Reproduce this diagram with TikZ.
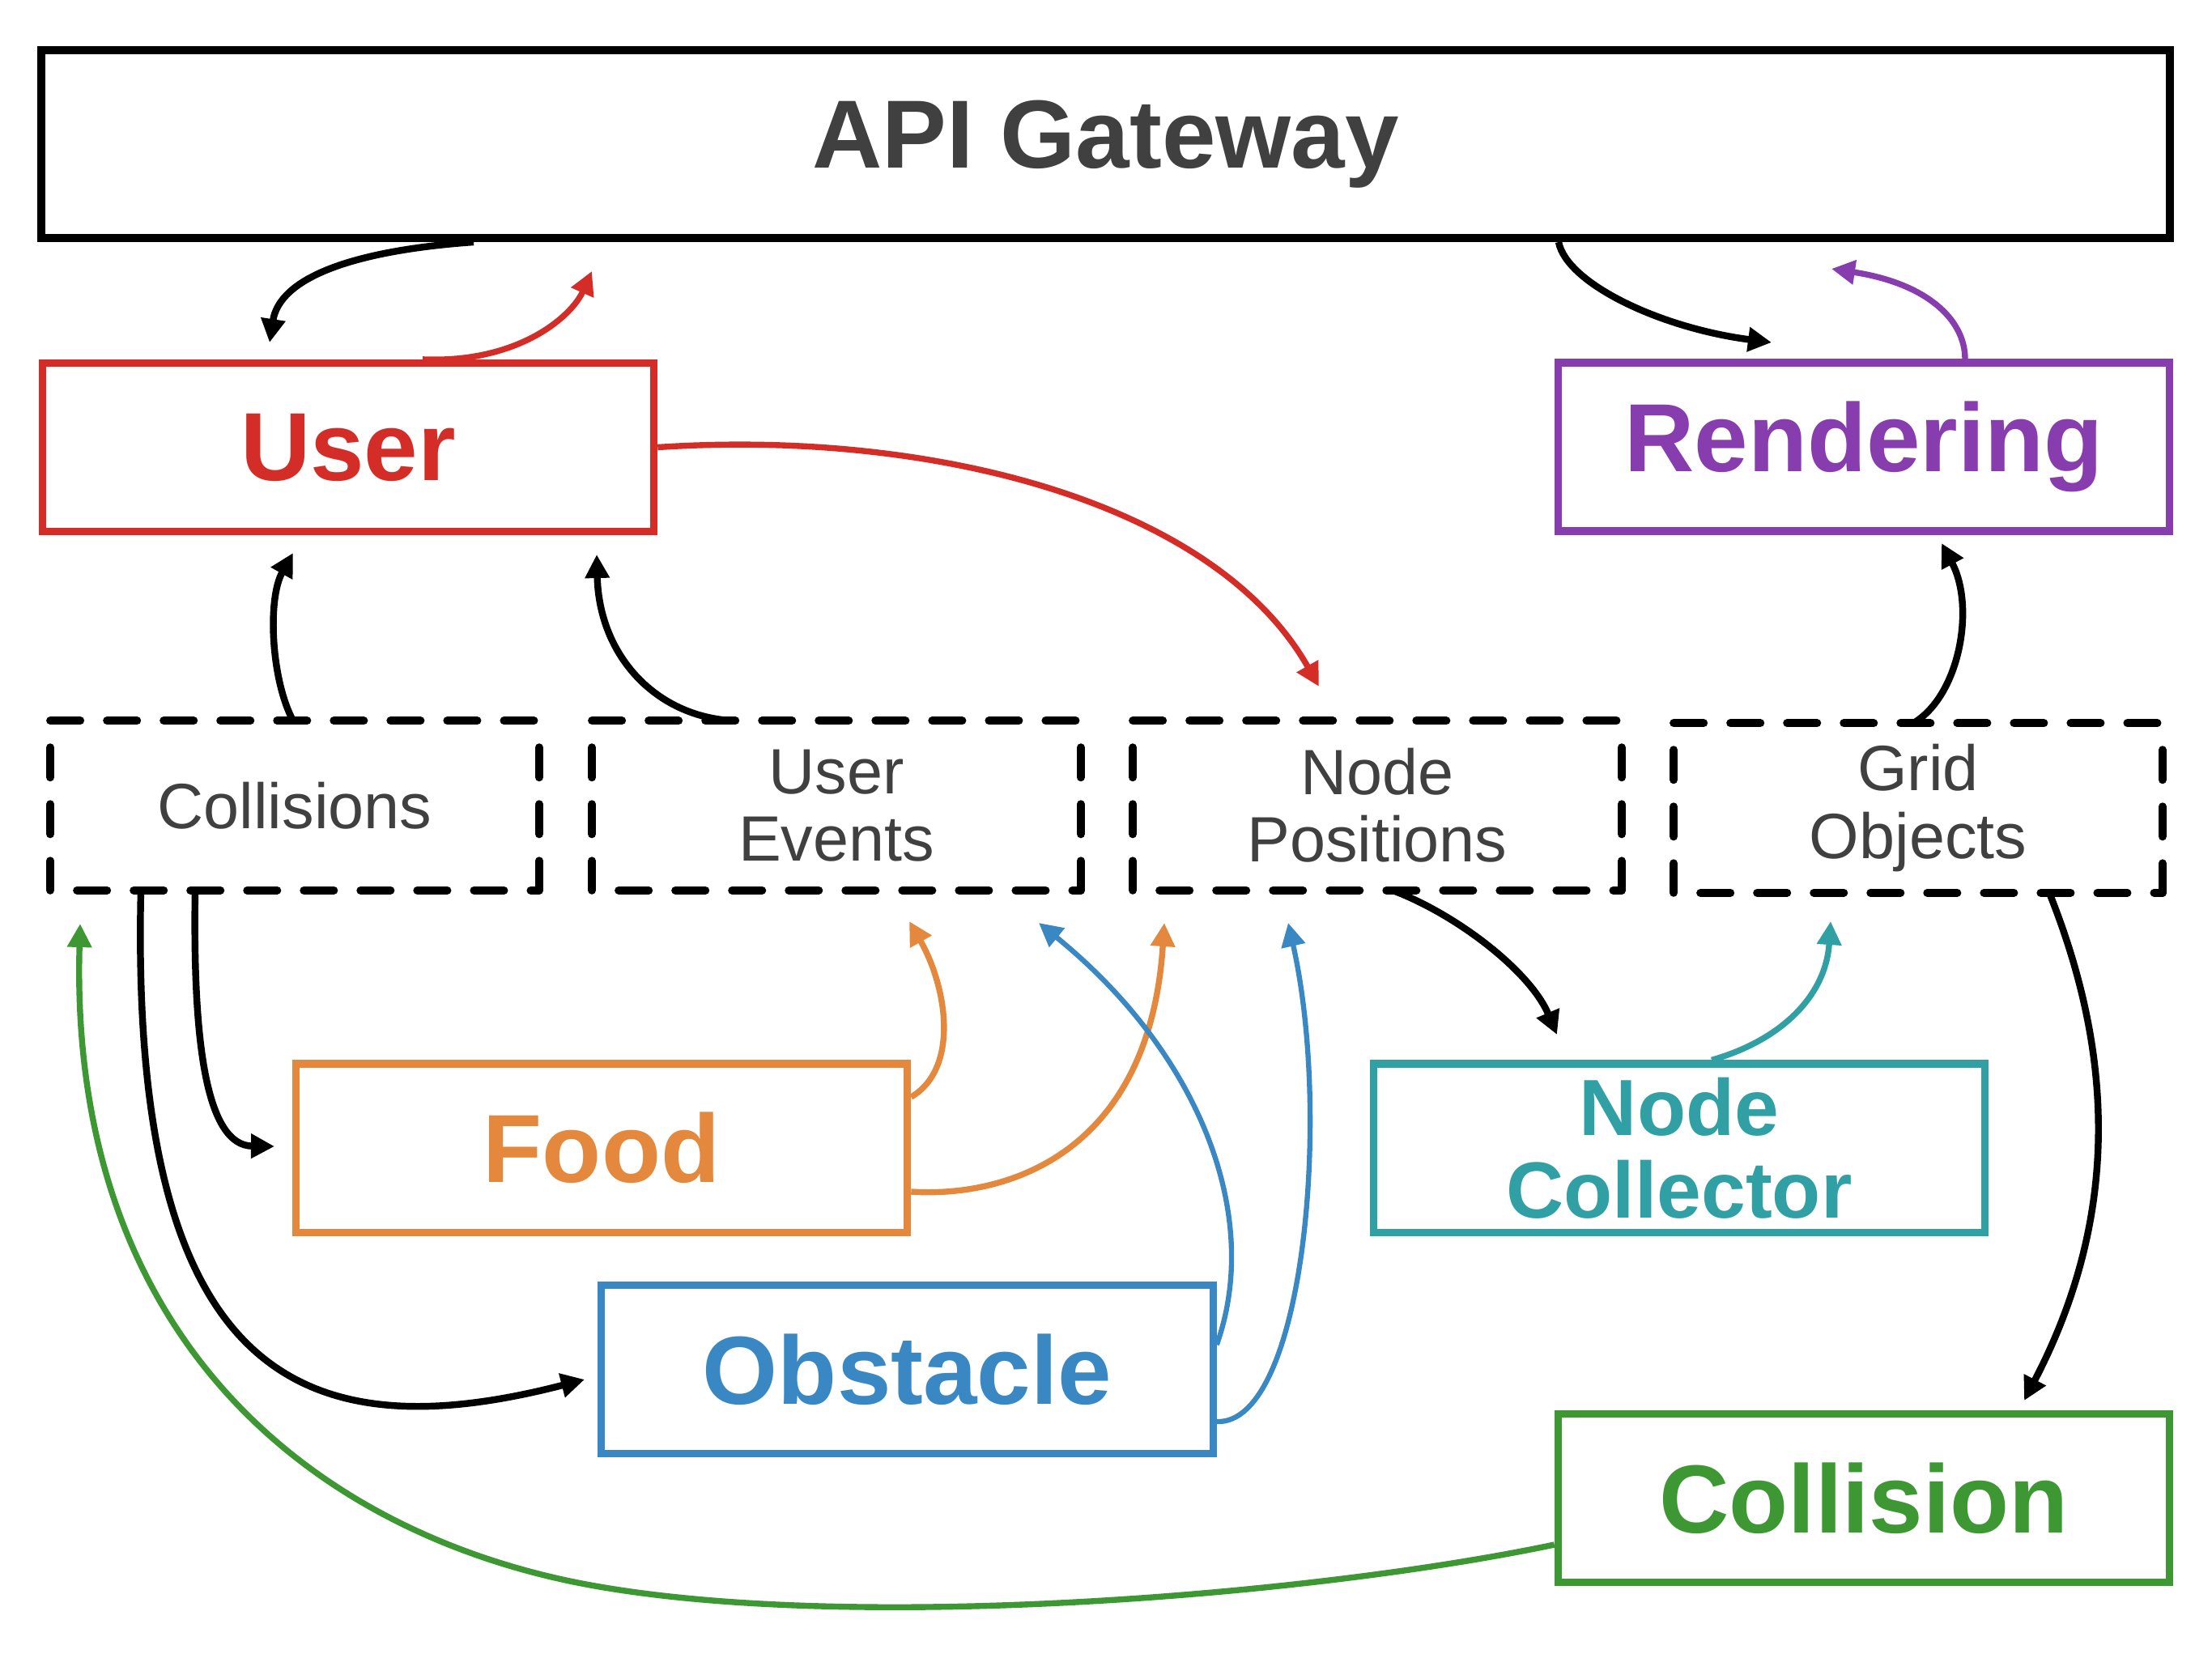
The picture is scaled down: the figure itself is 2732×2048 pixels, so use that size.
\documentclass[tikz,border=0pt]{standalone}
\usepackage{fontspec}
\setmainfont{Liberation Sans}
\usetikzlibrary{arrows.meta}
\definecolor{cred}{HTML}{D42D27}
\definecolor{cpurple}{HTML}{883DAF}
\definecolor{corange}{HTML}{E3883C}
\definecolor{cblue}{HTML}{3A88C3}
\definecolor{cteal}{HTML}{30A0A4}
\definecolor{cgreen}{HTML}{3D9733}
\definecolor{ctext}{HTML}{404040}
\begin{document}
\begin{tikzpicture}[x=0.01cm,y=-0.01cm,
  box/.style={draw, line width=2.6pt, rectangle, minimum width=7.55cm, minimum height=2.08cm,
    inner sep=0pt, font=\fontsize{34}{38}\selectfont\bfseries, align=center},
  dbox/.style={minimum width=6.02cm, minimum height=2.08cm, inner sep=0pt, text=ctext,
    font=\fontsize{22.5}{23.7}\selectfont, align=center},
  dline/.style={draw=black, line width=2.85pt, dash pattern=on 0.37cm off 0.33cm, line cap=round},
  conn/.style={line width=2.4pt, -{Triangle[length=2.9mm,width=2.9mm]}},
  cconn/.style={line width=2.1pt, -{Triangle[length=2.9mm,width=2.9mm]}},
  bconn/.style={line width=1.8pt, -{Triangle[length=2.9mm,width=2.9mm]}},
]
\fill[white] (0,0) rectangle (2732,2048);
\useasboundingbox (0,0) rectangle (2732,2048);

% main boxes
\node[draw, line width=2.8pt, minimum width=26.27cm, minimum height=2.32cm, inner sep=0pt,
  text=ctext, font=\fontsize{34}{38}\selectfont\bfseries] (api) at (1365.5,178) {API Gateway};
\node[box, draw=cred, text=cred] (user) at (430,552.5) {User};
\node[box, draw=cpurple, text=cpurple] (rendering) at (2302,552) {Rendering};
\node[box, draw=corange, text=corange] (food) at (743,1418) {Food};
\node[box, draw=cteal, text=cteal, font=\fontsize{28}{29}\selectfont\bfseries] (collector) at (2074,1418) {Node\\Collector};
\node[box, draw=cblue, text=cblue] (obstacle) at (1120.5,1691.5) {Obstacle};
\node[box, draw=cgreen, text=cgreen] (collision) at (2302,1850.5) {Collision};

% dashed data boxes
\node[dbox] (collisions) at (364,995) {Collisions};
\node[dbox] (events) at (1033,995) {User\\Events};
\node[dbox] (positions) at (1701,995) {Node\\Positions};
\node[dbox] (grid) at (2369,998) {Grid\\Objects};
\foreach \n in {collisions,events,positions,grid}{
  \draw[dline] (\n.north west) -- (\n.north east);
  \draw[dline, dash phase=0.37cm] (\n.north west) -- (\n.south west);
  \draw[dline, dash phase=0.37cm] (\n.north east) -- (\n.south east);
  \draw[dline, dash phase=0.37cm] (\n.south west) -- (\n.south east);
}

% arrow tip coordinates
\coordinate (t1) at (333,423);
\coordinate (t2) at (731,335);
\coordinate (t3) at (2188,423);
\coordinate (t4) at (2262,332);
\coordinate (t5) at (362,683);
\coordinate (t6) at (737,685);
\coordinate (t7) at (1629,848);
\coordinate (t8) at (339,1416);
\coordinate (t9) at (722,1704);
\coordinate (t10) at (99,1141);
\coordinate (t11) at (1123,1138);
\coordinate (t12) at (1438,1140);
\coordinate (t13) at (1283,1140);
\coordinate (t14) at (1591,1140);
\coordinate (t15) at (1923,1278);
\coordinate (t16) at (2261,1138);
\coordinate (t17) at (2398,671);
\coordinate (t18) at (2500,1730);

% connectors
\draw[conn] (api.south -| 585,0) .. controls (430,310) and (345,345) .. (t1);
\draw[cconn, cred] (user.north -| 522,0) .. controls (640,449) and (706,391) .. (t2);
\draw[conn] (api.south -| 1925,0) .. controls (1935,350) and (2050,405) .. (t3);
\draw[cconn, cpurple] (rendering.north -| 2427,0) .. controls (2427,395) and (2380,350) .. (t4);
\draw[conn] (collisions.north -| 362,0) .. controls (335,840) and (330,740) .. (t5);
\draw[conn] (events.north -| 905,0) .. controls (810,885) and (740,810) .. (t6);
\draw[cconn, cred] (user.east) .. controls (1150,530) and (1500,620) .. (t7);
\draw[conn] (collisions.south -| 241,0) .. controls (238,1290) and (255,1415) .. (t8);
\draw[conn] (collisions.south -| 174,0) .. controls (160,1700) and (370,1795) .. (t9);
\draw[cconn, cgreen] (collision.west |- 0,1908) .. controls (1600,1975) and (1000,2020) .. (690,1950)
  .. controls (360,1875) and (85,1630) .. (t10);
\draw[cconn, corange] (food.east |- 0,1355) .. controls (1185,1320) and (1170,1220) .. (t11);
\draw[cconn, corange] (food.east |- 0,1472) .. controls (1250,1480) and (1420,1420) .. (t12);
\draw[bconn, cblue] (obstacle.east |- 0,1661) .. controls (1560,1500) and (1480,1300) .. (t13);
\draw[bconn, cblue] (obstacle.east |- 0,1756) .. controls (1610,1760) and (1645,1380) .. (t14);
\draw[conn] (positions.south -| 1720,0) .. controls (1800,1130) and (1890,1200) .. (t15);
\draw[cconn, cteal] (collector.north -| 2114,0) .. controls (2200,1285) and (2255,1230) .. (t16);
\draw[conn] (grid.north -| 2363,0) .. controls (2420,860) and (2440,750) .. (t17);
\draw[conn] (grid.south -| 2531,0) .. controls (2610,1300) and (2620,1500) .. (t18);
\end{tikzpicture}
\end{document}
